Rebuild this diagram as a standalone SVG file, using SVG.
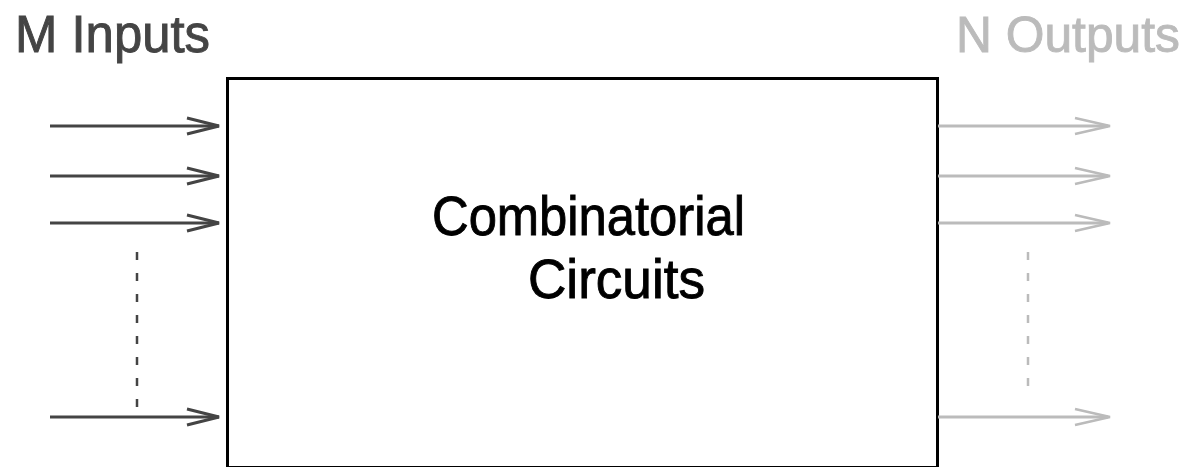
<svg xmlns="http://www.w3.org/2000/svg" width="1191" height="467" viewBox="0 0 1191 467">
<style>
text{font-family:"Liberation Sans",Arial,sans-serif;stroke-width:0.9}
.in{stroke:#444;stroke-width:3;fill:none}
.out{stroke:#bbb;stroke-width:3;fill:none}
.inh{stroke:#444;stroke-width:3;fill:none}
.outh{stroke:#bbb;stroke-width:2.5;fill:none}
</style>
<rect width="1191" height="467" fill="#fff"/>
<g id="label-inputs"><text x="15" y="52" font-size="51" fill="#444" stroke="#444" textLength="195" lengthAdjust="spacingAndGlyphs">M Inputs</text></g>
<g id="label-outputs"><text x="956" y="52" font-size="50" fill="#bbb" stroke="#bbb" textLength="224" lengthAdjust="spacingAndGlyphs">N Outputs</text></g>
<g id="box">
<rect x="227.5" y="78.5" width="710" height="389" fill="#fff" stroke="#000" stroke-width="3"/>
<text x="432" y="235" font-size="55" fill="#000" stroke="#000" textLength="313" lengthAdjust="spacingAndGlyphs">Combinatorial</text>
<text x="528" y="298" font-size="55" fill="#000" stroke="#000" textLength="177" lengthAdjust="spacingAndGlyphs">Circuits</text>
</g>
<g id="connectors">
<path class="in" d="M50 126H219 M50 176H219 M50 223H219 M50 417H219"/>
<path class="inh" d="M187 118L219 126L187 134 M187 168L219 176L187 184 M187 215L219 223L187 231 M187 409L219 417L187 425"/>
<path d="M137 252V408" stroke="#444" stroke-width="2.5" stroke-dasharray="8 13"/>
<path class="out" d="M938 126H1108 M938 176H1108 M938 223H1108 M938 417H1108"/>
<path class="outh" d="M1075 118L1110 126L1075 134 M1075 168L1110 176L1075 184 M1075 215L1110 223L1075 231 M1075 409L1110 417L1075 425"/>
<path d="M1028 252V388" stroke="#bbb" stroke-width="2.5" stroke-dasharray="8 13"/>
</g>
</svg>
